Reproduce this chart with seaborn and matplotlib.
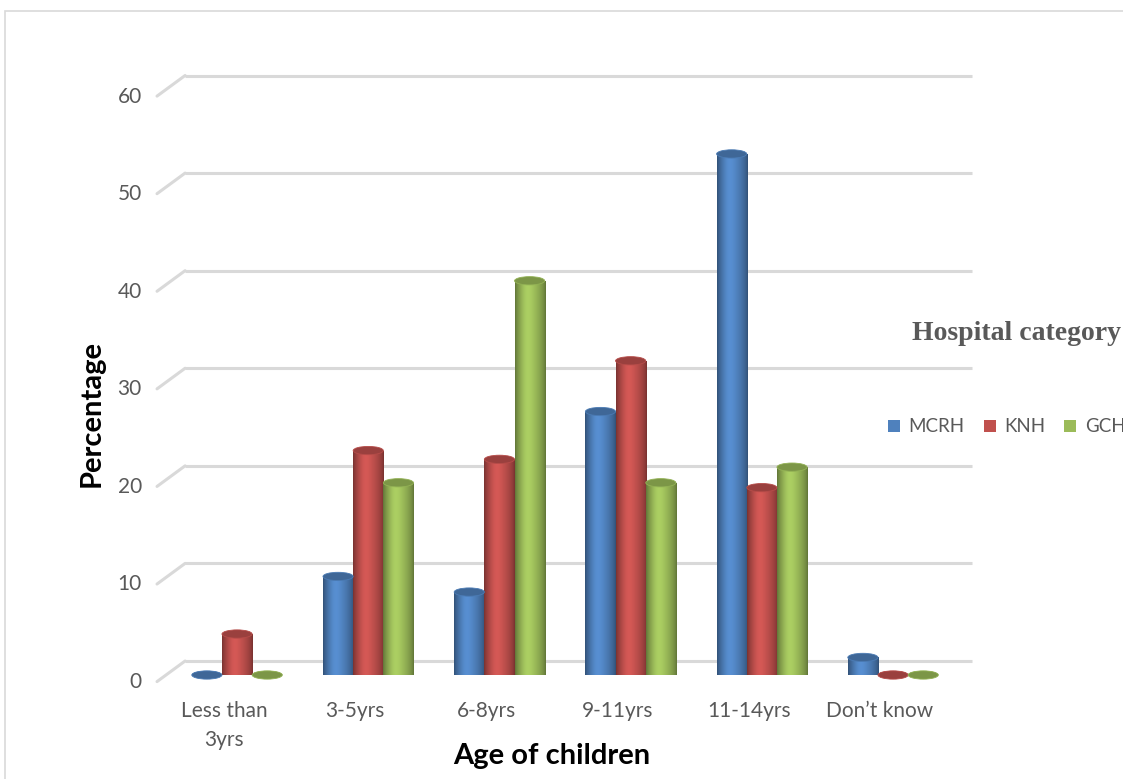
import numpy as np
import pandas as pd
import matplotlib
matplotlib.use("Agg")
import matplotlib.pyplot as plt
import matplotlib.transforms as mtransforms
from matplotlib.patches import Ellipse, Rectangle, Patch
import seaborn as sns

# ---- data -------------------------------------------------------------
age_groups = ["Less than\n3yrs", "3-5yrs", "6-8yrs", "9-11yrs", "11-14yrs", "Don\u2019t know"]
hospitals = ["MCRH", "KNH", "GCH"]
mcrh = [0.0, 10.1, 8.5, 27.0, 53.4, 1.8]
knh = [4.2, 23.0, 22.1, 32.2, 19.2, 0.0]
gch = [0.0, 19.7, 40.4, 19.7, 21.3, 0.0]
y_ticks = [0, 10, 20, 30, 40, 50, 60]
colors = ["#4F81BD", "#C0504D", "#9BBB59"]

df = pd.DataFrame({
    "Age of children": age_groups * 3,
    "Hospital category": np.repeat(hospitals, len(age_groups)),
    "Percentage": mcrh + knh + gch,
})

# ---- figure -----------------------------------------------------------
sns.set_theme(style="white")
plt.rcParams["font.family"] = ["Lato", "DejaVu Sans"]

W, H = 1123, 779
fig = plt.figure(figsize=(W / 100, H / 100), dpi=100)
ax = fig.add_axes([155.7 / W, (H - 675) / H, 818.7 / W, 605 / H])

sns.barplot(data=df, x="Age of children", y="Percentage", hue="Hospital category",
            palette=colors, width=0.69, gap=0, ax=ax, legend=False,
            errorbar=None, zorder=3)

ax.set_xlim(-0.62, 5.62)
ax.set_ylim(0, 62)
for s in ax.spines.values():
    s.set_visible(False)
ax.grid(False)

px = lambda dx, dy: mtransforms.ScaledTranslation(dx / 100, dy / 100, fig.dpi_scale_trans)

# back-wall gridlines with a short perspective step on the left
grid_c = "#D9D9D9"
x_back0, x_back1, x_front = -0.396, 5.602, -0.61
for v in y_ticks:
    ax.plot([x_back0, x_back1], [v, v], color=grid_c, lw=2.2, zorder=1,
            transform=ax.transData + px(0, 14), clip_on=False, solid_capstyle="butt")
    # diagonal: front point sits 6.6 px below, back point 14 px above the value
    p0 = ax.transData.transform((x_front, v)) + np.array([0, -6.6])
    p1 = ax.transData.transform((x_back0, v)) + np.array([0, 14])
    ax.plot([p0[0], p1[0]], [p0[1], p1[1]], color=grid_c, lw=2.2, zorder=1,
            transform=None, clip_on=False)


# ---- cylinder shading ----------------------------------------------------
def shaded(base, n=64):
    rgb = np.array(matplotlib.colors.to_rgb(base))
    t = np.linspace(0, 1, n)
    prof = np.clip(np.sin(np.pi * t) ** 0.7, 0, 1)
    peak = np.exp(-((t - 0.38) / 0.22) ** 2)
    fac = 0.62 + 0.38 * prof + 0.12 * peak
    out = np.clip(rgb[None, :] * fac[:, None], 0, 1)
    return out[None, :, :]


ell_h = 0.85
for cont, base in zip(ax.containers, colors):
    img = shaded(base)
    rgb = np.array(matplotlib.colors.to_rgb(base))
    for bar in cont:
        x0, w, h = bar.get_x(), bar.get_width(), bar.get_height()
        xc = x0 + w / 2
        bar.set_facecolor("none")
        bar.set_edgecolor("none")
        # body
        if h > 0:
            im = ax.imshow(img, extent=[x0, x0 + w, 0, h], aspect="auto",
                           zorder=3, interpolation="bilinear")
            im.set_clip_path(bar)
        # rounded base
        bot = Ellipse((xc, 0), w, ell_h, facecolor="none", edgecolor="none",
                      transform=ax.transData, clip_on=False)
        ax.add_patch(bot)
        imb = ax.imshow(img, extent=[x0, x0 + w, -ell_h / 2, ell_h / 2], aspect="auto",
                        zorder=2.9, interpolation="bilinear")
        imb.set_clip_path(bot)
        # top cap
        top_c = np.clip(rgb * 0.8, 0, 1)
        ax.add_patch(Ellipse((xc, h), w, ell_h, facecolor=top_c,
                             edgecolor=np.clip(rgb * 0.95, 0, 1), lw=0.6,
                             zorder=4, clip_on=False))

ax.set_xlim(-0.62, 5.62)
ax.set_ylim(0, 62)

# ---- axes text -----------------------------------------------------------
tick_c = "#595959"
ax.set_yticks(y_ticks)
ax.set_yticklabels([str(v) for v in y_ticks], fontsize=15, color=tick_c)
ax.tick_params(axis="y", length=0, pad=10)
for lab in ax.get_yticklabels():
    lab.set_transform(lab.get_transform() + px(0, -5))

ax.set_xticks(range(len(age_groups)))
ax.set_xticklabels(age_groups, fontsize=15, color=tick_c, linespacing=1.55)
ax.tick_params(axis="x", length=0, pad=19)
for lab in ax.get_xticklabels():
    lab.set_transform(lab.get_transform() + px(-13, 0))

ax.set_ylabel("Percentage", fontsize=21, fontweight="bold", color="black")
ax.yaxis.set_label_coords(-0.062, 0.433)
ax.set_xlabel("Age of children", fontsize=21, fontweight="bold", color="black")
ax.xaxis.set_label_coords(0.484, -0.112)

# ---- legend --------------------------------------------------------------
fig.text(912 / W, 1 - 334 / H, "Hospital category", fontsize=20, fontweight="bold",
         color=tick_c, family=["Liberation Serif", "DejaVu Serif"], va="center", ha="left")
handles = [Patch(facecolor=c, edgecolor="none") for c in colors]
fig.legend(handles, hospitals, ncol=3, loc="center left",
           bbox_to_anchor=(888 / W, 1 - 427 / H), frameon=False, fontsize=13.5,
           handlelength=0.65, handleheight=0.65, handletextpad=0.45, columnspacing=1.0,
           labelcolor=tick_c, borderpad=0, borderaxespad=0)

# outer chart frame
fig.add_artist(Rectangle((5 / W, -0.1), 1.2, 1 - 11 / H + 0.1, transform=fig.transFigure,
                         facecolor="none", edgecolor="#D9D9D9", lw=1.2))

fig.savefig("out.png", dpi=100)
